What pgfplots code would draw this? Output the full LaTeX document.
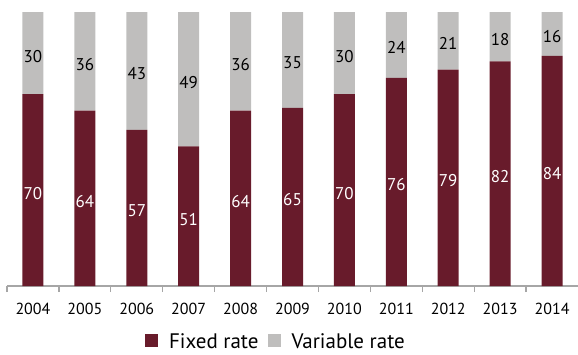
\documentclass[border=0pt]{standalone}
\usepackage{fontspec}
\setmainfont{PT Sans}
\usepackage{pgfplots}
\usepackage{pgfplotstable}
\pgfplotsset{compat=1.18}
\definecolor{fixedc}{RGB}{104,27,43}
\definecolor{varc}{RGB}{191,190,189}
\definecolor{axc}{RGB}{166,166,166}
\pgfplotstableread{
x year fixed var
0 2004 70 30
1 2005 64 36
2 2006 57 43
3 2007 51 49
4 2008 64 36
5 2009 65 35
6 2010 70 30
7 2011 76 24
8 2012 79 21
9 2013 82 18
10 2014 84 16
}\data
\begin{document}
\begin{tikzpicture}
\path[use as bounding box] (0,0) rectangle (578pt,354pt);
\begin{axis}[
  at={(7pt,68pt)}, anchor=south west,
  scale only axis, width=571pt, height=274pt,
  ybar stacked, bar width=21pt,
  xmin=-0.5, xmax=10.5, ymin=0, ymax=100,
  axis x line*=bottom, axis y line=none,
  axis line style={axc, line width=1.3pt},
  xtick={0,...,10},
  xticklabels={2004,2005,2006,2007,2008,2009,2010,2011,2012,2013,2014},
  major tick length=0pt,
  minor xtick={-0.5,0.5,...,9.5},
  minor tick length=6pt,
  tick align=outside,
  minor tick style={axc, line width=1.2pt},
  xticklabel style={font=\fontsize{16}{19}\selectfont, yshift=-14pt},
  /pgf/number format/assume math mode=true,
  ytick=\empty,
  legend style={at={(0.471,-0.205)}, anchor=center, draw=none, fill=none,
    legend columns=2, font=\fontsize{21}{24}\selectfont,
    /tikz/every odd column/.append style={column sep=9pt},
    /tikz/every even column/.append style={column sep=7pt}},
  legend image code/.code={\fill (0pt,-5pt) rectangle (13pt,8pt);},
]
\addplot[fill=fixedc, draw=none] table[x=x, y=fixed] {\data};
\addlegendentry{Fixed rate}
\addplot[fill=varc, draw=none] table[x=x, y=var] {\data};
\addlegendentry{Variable rate}
\end{axis}
\begin{axis}[
  at={(7pt,68pt)}, anchor=south west,
  scale only axis, width=571pt, height=274pt,
  xmin=-0.5, xmax=10.5, ymin=0, ymax=100,
  hide axis, clip=false,
  /pgf/number format/assume math mode=true,
  nodes near coords, point meta=explicit,
  every node near coord/.append style={anchor=center, yshift=-3pt, font=\fontsize{17}{20}\selectfont},
]
\addplot[draw=none, mark=none, nodes near coords style={text=white}] table[x=x, y expr=\thisrow{fixed}/2, meta=fixed] {\data};
\addplot[draw=none, mark=none, nodes near coords style={text=black}] table[x=x, y expr=\thisrow{fixed}+\thisrow{var}/2, meta=var] {\data};
\end{axis}
\end{tikzpicture}
\end{document}
